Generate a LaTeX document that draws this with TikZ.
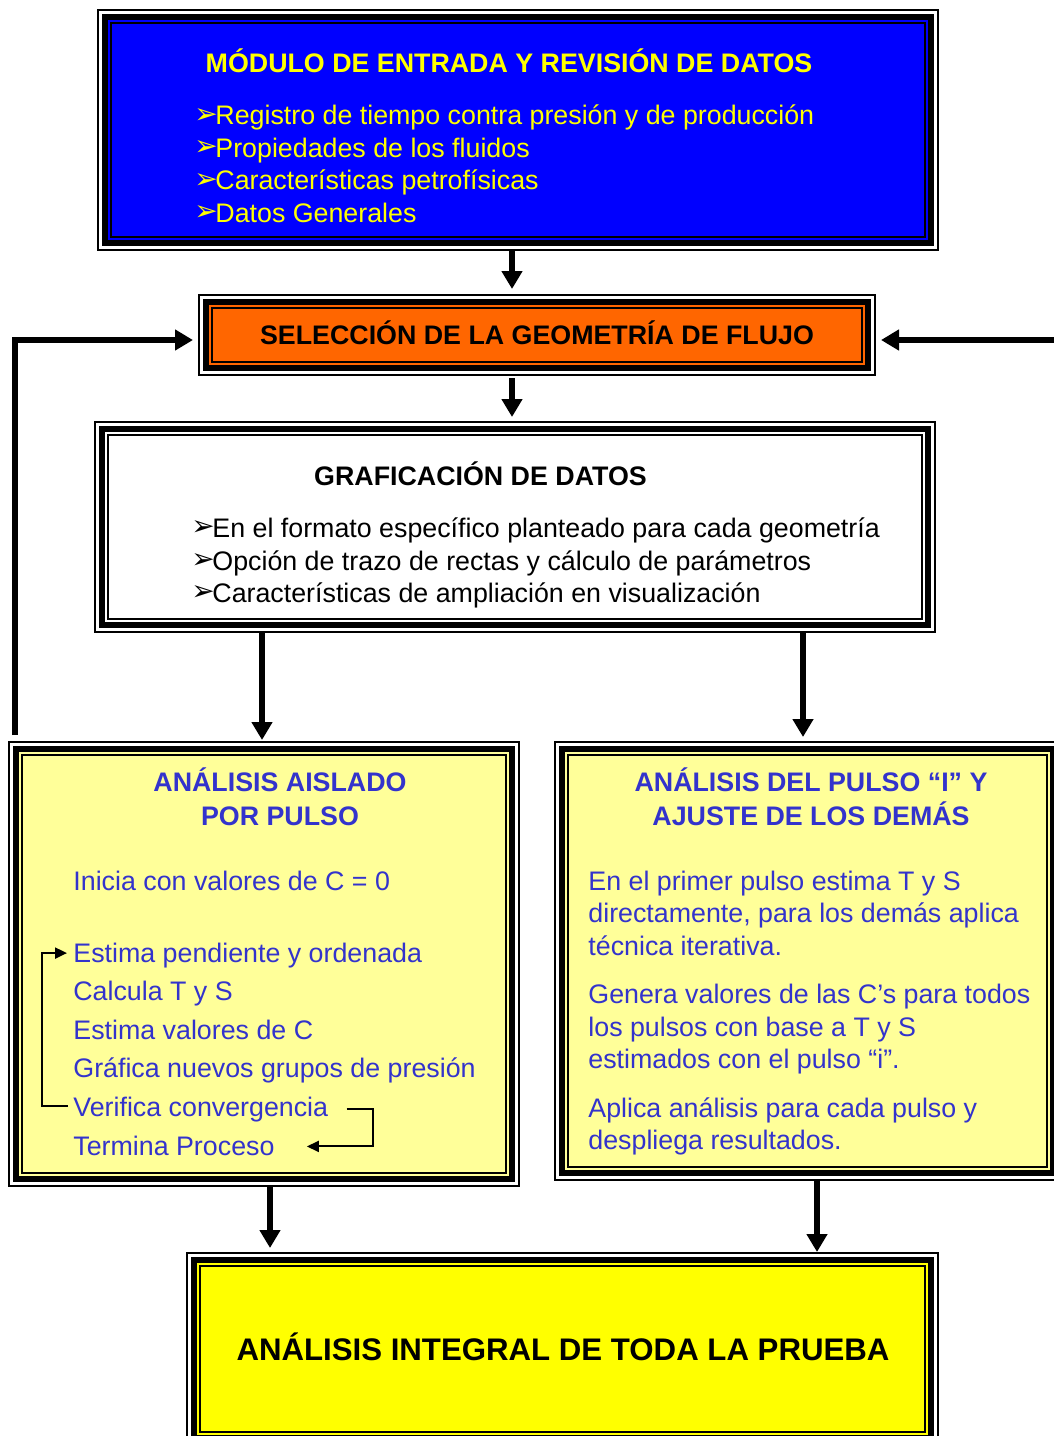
\documentclass[tikz,border=0pt]{standalone}
\usepackage{fontspec}
\setmainfont{Liberation Sans}
\newfontfamily\dingfont{DejaVu Sans}
\usetikzlibrary{arrows.meta,fit}
\definecolor{azul}{RGB}{0,0,255}
\definecolor{naranja}{RGB}{255,102,0}
\definecolor{crema}{RGB}{255,255,153}
\definecolor{amarillo}{RGB}{255,255,0}
\definecolor{tinta}{RGB}{51,51,204}
\newcommand\punta{\makebox[10.5pt][l]{\raisebox{0.8pt}{\dingfont\fontsize{14}{14}\selectfont ➢}}}
\begin{document}
\begin{tikzpicture}[x=0.5pt, y=-0.5pt,
  caja/.style={draw, line width=1pt, fill=#1, inner sep=0pt, outer sep=0pt},
  titulo/.style={font=\bfseries\fontsize{13.4}{17}\selectfont, align=center, inner sep=0pt},
  texto/.style={font=\fontsize{13.4}{16.25}\selectfont, align=left, inner sep=0pt},
  flecha/.style={line width=3pt, -{Triangle[length=9pt, width=10pt]}},
  flechita/.style={line width=1pt, -{Triangle[length=6pt, width=5.5pt]}}]
  \useasboundingbox (0,0) rectangle (1054,1436);
  % cajas
  \node[caja=azul, fit={(98,10) (938,250)}] (entrada) {};
  \node[caja=naranja, fit={(199,295) (875,375)}] (seleccion) {};
  \node[caja=white, fit={(95,422) (935,632)}] (grafica) {};
  \node[caja=crema, fit={(9,742) (519,1186)}] (aislado) {};
  \node[caja=crema, fit={(555,742) (1060,1180)}] (pulso) {};
  \node[caja=amarillo, fit={(187,1253) (938,1445)}] (integral) {};
  \foreach \c in {entrada,seleccion,grafica,aislado,pulso,integral}{
    \draw[white, line width=1.3pt] ([shift={(1.15pt,-1.15pt)}]\c.north west) rectangle ([shift={(-1.15pt,1.15pt)}]\c.south east);
    \draw[line width=3pt] ([shift={(3.3pt,-3.3pt)}]\c.north west) rectangle ([shift={(-3.3pt,3.3pt)}]\c.south east);
    \draw[line width=1pt] ([shift={(6.3pt,-6.3pt)}]\c.north west) rectangle ([shift={(-6.3pt,6.3pt)}]\c.south east);
  }
  % textos
  \node[titulo, text=amarillo, anchor=base] (tentrada) at (509,72) {MÓDULO DE ENTRADA Y REVISIÓN DE DATOS};
  \node[texto, text=amarillo, anchor=west] (lentrada) at (194,164) {\punta Registro de tiempo contra presión y de producción\\
    \punta Propiedades de los fluidos\\
    \punta Características petrofísicas\\
    \punta Datos Generales};
  \node[titulo, anchor=base] (tseleccion) at (537,344) {SELECCIÓN DE LA GEOMETRÍA DE FLUJO};
  \node[titulo, anchor=base] (tgrafica) at (480.5,485) {GRAFICACIÓN DE DATOS};
  \node[texto, anchor=west] (lgrafica) at (191,563) {\punta En el formato específico planteado para cada geometría\\
    \punta Opción de trazo de rectas y cálculo de parámetros\\
    \punta Características de ampliación en visualización};
  \node[titulo, text=tinta] (taislado) at (280,797) {ANÁLISIS AISLADO\\POR PULSO};
  \node[texto, text=tinta, anchor=base west] (inicia) at (73,890) {Inicia con valores de C = 0};
  \node[texto, text=tinta, anchor=base west] (estima) at (73,962) {Estima pendiente y ordenada};
  \node[texto, text=tinta, anchor=base west] (calcula) at (73,1000.5) {Calcula T y S};
  \node[texto, text=tinta, anchor=base west] (valores) at (73,1039) {Estima valores de C};
  \node[texto, text=tinta, anchor=base west] (nuevos) at (73,1077.5) {Gráfica nuevos grupos de presión};
  \node[texto, text=tinta, anchor=base west] (verifica) at (73,1116) {Verifica convergencia};
  \node[texto, text=tinta, anchor=base west] (termina) at (73,1155) {Termina Proceso};
  \node[titulo, text=tinta] (tpulso) at (811,797) {ANÁLISIS DEL PULSO “I” Y\\AJUSTE DE LOS DEMÁS};
  \node[texto, text=tinta, anchor=west] (pulsoa) at (588,913) {En el primer pulso estima T y S\\
    directamente, para los demás aplica\\técnica iterativa.};
  \node[texto, text=tinta, anchor=west] (pulsob) at (588,1029.5) {Genera valores de las C’s para todos\\
    los pulsos con base a T y S\\estimados con el pulso “i”.};
  \node[texto, text=tinta, anchor=west] (pulsoc) at (588,1126.5) {Aplica análisis para cada pulso y\\despliega resultados.};
  \node[titulo, font=\bfseries\fontsize{15.6}{19}\selectfont, anchor=base] (tintegral) at (563,1360) {ANÁLISIS INTEGRAL DE TODA LA PRUEBA};
  % flechas
  \draw[flecha] ([xshift=-3pt]entrada.south) -- ([xshift=-12.5pt,yshift=3pt]seleccion.north);
  \draw[flecha] ([xshift=-12.5pt,yshift=-1.5pt]seleccion.south) -- ([xshift=-1.5pt,yshift=2.5pt]grafica.north);
  \draw[flecha] ([xshift=-126.5pt]grafica.south) -- ([xshift=-1pt,yshift=1pt]aislado.north);
  \draw[flecha] ([xshift=144pt]grafica.south) -- ([xshift=-2.25pt,yshift=2.5pt]pulso.north);
  \draw[flecha] ([xshift=3pt]aislado.south) -- ([xshift=-146.25pt,yshift=2.5pt]integral.north);
  \draw[flecha] ([xshift=4.75pt]pulso.south) -- ([xshift=127.25pt,yshift=0.5pt]integral.north);
  \draw[flecha] ([xshift=3pt,yshift=3.5pt]aislado.north west) |- ([xshift=-3pt,yshift=-2.5pt]seleccion.west);
  \coordinate (retorno) at (1060,340);
  \draw[flecha] (retorno) -- ([xshift=3pt,yshift=-2.5pt]seleccion.east);
  \draw[flechita] ([xshift=-2.5pt,yshift=1.5pt]verifica.west) -- ++(-26,0) |- ([xshift=-3pt,yshift=1pt]estima.west);
  \draw[flechita] ([xshift=9pt]verifica.east) -- ++(26,0) |- ([xshift=16pt,yshift=-0.5pt]termina.east);
\end{tikzpicture}
\end{document}
